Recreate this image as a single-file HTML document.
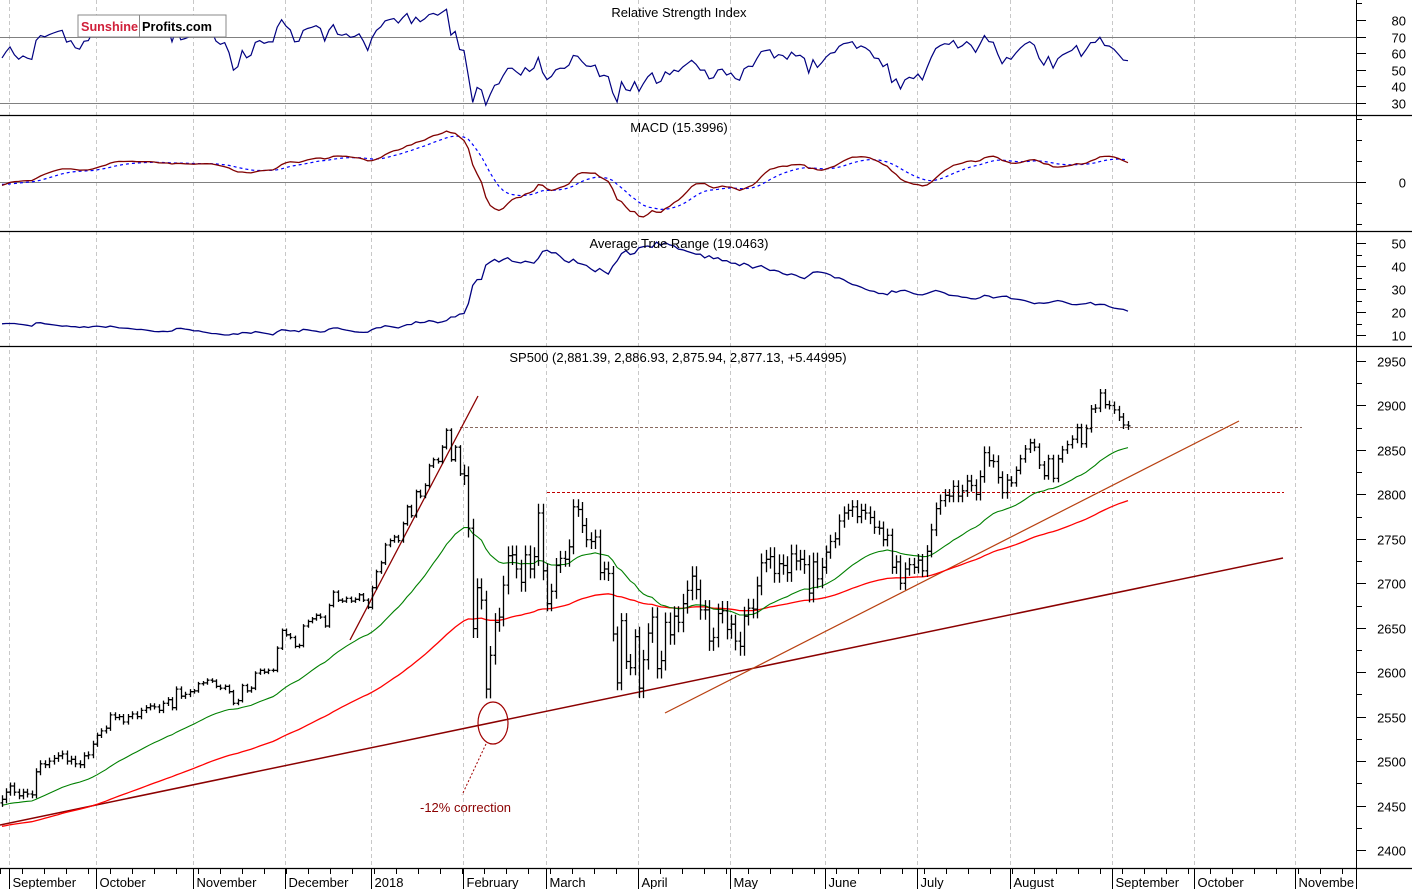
<!DOCTYPE html>
<html><head><meta charset="utf-8">
<style>
html,body{margin:0;padding:0;background:#fff;}
svg{display:block;font-family:"Liberation Sans",Arial,sans-serif;}
</style></head>
<body>
<svg id="chart" width="1412" height="889" viewBox="0 0 1412 889" xmlns="http://www.w3.org/2000/svg">
  <rect x="0" y="0" width="1412" height="889" fill="#fff"/>
  <g id="grid"></g>
  <g id="rsiG"></g>
  <g id="macdG"></g>
  <g id="atrG"></g>
  <g id="priceG"></g>
  <g id="axisG"></g>
</svg>
<script>
// ---- data (daily closes per month, Aug-2017 .. Aug-2018) ----
const monthNames = ["September","October","November","December","2018","February","March","April","May","June","July","August","September","October","Novembe"];
const closesAug17 = [2457,2465];
const closesSep17 = [2472,2465,2461,2465,2463,2462,2488,2497,2496,2500,2503,2506,2508,2500,2502,2497,2496,2506,2507,2519];
const closesOct17 = [2529,2534,2537,2552,2549,2550,2544,2550,2553,2550,2557,2560,2562,2561,2557,2565,2569,2560,2581,2573,2575,2578];
const closesNov17 = [2579,2587,2588,2591,2590,2584,2582,2584,2578,2565,2568,2585,2579,2582,2599,2602,2600,2602,2602,2627,2647];
const closesDec17 = [2642,2639,2629,2630,2652,2657,2660,2664,2662,2652,2675,2690,2681,2680,2683,2680,2682,2687,2681,2673];
const closesJan18 = [2695,2713,2723,2743,2748,2752,2748,2767,2786,2776,2803,2798,2810,2832,2839,2837,2853,2872,2839,2853,2823];
const closesFeb18 = [2821,2762,2649,2695,2681,2581,2619,2656,2662,2698,2731,2732,2716,2701,2732,2716,2730,2779,2714];
const closesMar18 = [2677,2691,2720,2728,2727,2741,2786,2783,2765,2749,2747,2752,2712,2716,2711,2643,2588,2658,2612,2605,2640];
const closesApr18 = [2582,2614,2644,2662,2604,2613,2656,2642,2663,2656,2677,2692,2708,2693,2670,2670,2635,2639,2666,2669,2648];
const closesMay18 = [2654,2635,2629,2663,2672,2671,2697,2723,2727,2730,2711,2722,2720,2712,2733,2725,2727,2721,2689,2724,2705,2718];
const closesJun18 = [2735,2747,2750,2770,2779,2782,2786,2775,2782,2779,2774,2763,2762,2749,2754,2718,2724,2700,2716,2721,2718];
const closesJul18 = [2726,2714,2736,2760,2784,2793,2799,2798,2809,2798,2804,2815,2810,2800,2820,2847,2838,2837,2819,2802,2816];
const closesAug18 = [2813,2827,2840,2851,2858,2853,2833,2821,2840,2818,2840,2850,2856,2862,2875,2857,2874,2896,2897,2914,2901,2900,2895,2887,2878,2877];
// typical intraday range per month (points)
const monthRange = [15,13,10,7,7,8,35,28,37,35,25,23,15];
const priceTicks = [2950,2900,2850,2800,2750,2700,2650,2600,2550,2500,2450,2400];
const rsiTicks = [80,70,60,50,40,30];
const atrTicks = [50,40,30,20,10];
const macdTicks = [0];

const months = [closesAug17,closesSep17,closesOct17,closesNov17,closesDec17,closesJan18,closesFeb18,closesMar18,closesApr18,closesMay18,closesJun18,closesJul18,closesAug18];
// layout: x-pixel of each month start on the time axis (Sep-17 .. Nov-18)
const monthX = [10,97,194,286,372,464,547,639,731,826,918,1011,1113,1195,1296];

// ---- build bars ----
const closes=[], monthIdx=[], monthStart=[];
months.forEach((m,mi)=>{monthStart.push(closes.length); m.forEach(c=>{closes.push(c);monthIdx.push(mi);});});
const N=closes.length;
// anchors: bar index -> x
const anchI=[0], anchX=[2];
for(let m=1;m<months.length;m++){anchI.push(monthStart[m]);anchX.push(monthX[m-1]);}
anchI.push(N-1); anchX.push(1128);
function xB(i){for(let k=0;k<anchI.length-1;k++){if(i<=anchI[k+1]){const t=(i-anchI[k])/(anchI[k+1]-anchI[k]);return anchX[k]+t*(anchX[k+1]-anchX[k]);}}return anchX[anchX.length-1];}
const yP=p=>361+(2950-p)*0.8891;
const yR=v=>20+(80-v)*1.66;
const yM=v=>182-v*1.05;
const yA=v=>243+(50-v)*2.3;

const opens=[],highs=[],lows=[];
for(let i=0;i<N;i++){
  const o=i?closes[i-1]:closes[i]-4; const r=monthRange[monthIdx[i]];
  opens.push(o);
  highs.push(Math.max(o,closes[i])+r*0.3);
  lows.push(Math.min(o,closes[i])-r*0.3);
}
function ema(arr,p,seed){const k=2/(p+1);let e=seed;return arr.map(v=>(e=v*k+e*(1-k)));}
const ma1=ema(closes,34,2450);
const ma2=ema(closes,95,2426);
const e12=ema(closes,12,closes[0]-6), e26=ema(closes,26,closes[0]-2);
const macd=e12.map((v,i)=>v-e26[i]);
const sig=ema(macd,9,-2);
const rsi=[];{let ag=4,al=3;for(let i=0;i<N;i++){const d=i?closes[i]-closes[i-1]:0;ag=(ag*13+Math.max(d,0))/14;al=(al*13+Math.max(-d,0))/14;rsi.push(100-100/(1+ag/al));}}
const atr=[];{let a=15;for(let i=0;i<N;i++){const pc=i?closes[i-1]:opens[i];const tr=Math.max(highs[i],pc)-Math.min(lows[i],pc);a=(a*13+tr)/14;atr.push(a);}}

const NS="http://www.w3.org/2000/svg";
function mk(tag,attrs,parent){const e=document.createElementNS(NS,tag);for(const k in attrs)e.setAttribute(k,attrs[k]);parent.appendChild(e);return e;}
const grid=document.getElementById('grid'),rsiG=document.getElementById('rsiG'),macdG=document.getElementById('macdG'),atrG=document.getElementById('atrG'),priceG=document.getElementById('priceG'),axisG=document.getElementById('axisG');

// gridlines + month labels
monthX.forEach((mx,m)=>{
  const x=mx-0.5;
  const g=mk('line',{x1:x,y1:0,x2:x,y2:868,stroke:'#c8c8c8','stroke-dasharray':'4,3'},grid);
  
  
  const t=mk('line',{x1:x,y1:868,x2:x,y2:889,stroke:'#000'},axisG);
  
  
  const lb=mk('text',{x:x+3,y:887,'font-size':13,fill:'#000'},axisG);
  lb.textContent=monthNames[m];
  
  
});
for(let x0=0;x0<1356;x0+=22){
  const x=x0+0.5;
  const t=mk('line',{x1:x,y1:868,x2:x,y2:874,stroke:'#000'},axisG);
  
  
}
function poly(pts,attrs,parent,name){const p=mk('polyline',Object.assign({points:pts.map(q=>q[0].toFixed(1)+','+q[1].toFixed(1)).join(' '),fill:'none'},attrs),parent);return p;}
function title(txt,x,y,parent,name){const t=mk('text',{x:x,y:y,'font-size':13,'text-anchor':'middle',fill:'#000'},parent);t.textContent=txt;}

// RSI
[70,30].forEach(v=>{const l=mk('line',{x1:0,x2:1356,y1:Math.round(yR(v))+0.5,y2:Math.round(yR(v))+0.5,stroke:'#808080'},rsiG);});
poly(rsi.map((v,i)=>[xB(i),yR(v)]),{stroke:'#000080','stroke-width':1.2},rsiG,'rsi-line');
title('Relative Strength Index',679,17,rsiG,'rsi-title');
// MACD
{const l=mk('line',{x1:0,x2:1356,y1:182.5,y2:182.5,stroke:'#808080'},macdG);}
poly(sig.map((v,i)=>[xB(i),yM(v)]),{stroke:'#0000ff','stroke-width':1.2,'stroke-dasharray':'3,3'},macdG,'macd-signal-line');
poly(macd.map((v,i)=>[xB(i),yM(v)]),{stroke:'#800000','stroke-width':1.3},macdG,'macd-line');
title('MACD (15.3996)',679,132,macdG,'macd-title');
// ATR
poly(atr.map((v,i)=>[xB(i),yA(v)]),{stroke:'#000080','stroke-width':1.3},atrG,'atr-line');
title('Average True Range (19.0463)',679,248,atrG,'atr-title');

// Price annotations
function line(x1,y1,x2,y2,attrs,name){const l=mk('line',Object.assign({x1,y1,x2,y2},attrs),priceG);}
line(460,427.5,1302,427.5,{stroke:'#8a6a60','stroke-dasharray':'3,2'},'prior-high-dashed-line');
line(547,492.5,1284,492.5,{stroke:'#c00000','stroke-dasharray':'3,2'},'resistance-2800-line');
line(0,825,1283,558,{stroke:'#8b0000','stroke-width':1.5},'long-term-trendline');
line(665,713,1239,421,{stroke:'#b84010','stroke-width':1.2},'rising-support-trendline');
line(350,640,478,396,{stroke:'#8b0000','stroke-width':1.3},'steep-january-trendline');
poly(ma2.map((v,i)=>[xB(i),yP(v)]),{stroke:'#ff0000','stroke-width':1.3},priceG,'moving-average-red');
poly(ma1.map((v,i)=>[xB(i),yP(v)]),{stroke:'#008000','stroke-width':1.1},priceG,'moving-average-green');
// OHLC bars
const barsG=mk('g',{stroke:'#000','stroke-width':1.3},priceG);


for(let i=0;i<N;i++){
  const x=Math.round(xB(i))+0.5;
  const p=mk('path',{d:`M${x},${yP(highs[i]).toFixed(1)}V${yP(lows[i]).toFixed(1)}M${x-2},${yP(opens[i]).toFixed(1)}H${x}M${x},${yP(closes[i]).toFixed(1)}H${x+2}`},barsG);
  
  
}
{const e=mk('ellipse',{cx:493,cy:723,rx:15,ry:21,fill:'none',stroke:'#a00000','stroke-width':1.2},priceG);}
line(486,744,462,795,{stroke:'#a00000','stroke-dasharray':'2,2'},'correction-pointer');
{const t=mk('text',{x:420,y:812,'font-size':13,fill:'#8b0000'},priceG);t.textContent='-12% correction';}
title('SP500 (2,881.39, 2,886.93, 2,875.94, 2,877.13, +5.44995)',678,362,priceG,'price-title');

// logo
const logo=mk('g',{},axisG);


mk('rect',{x:78,y:15,width:148,height:22,fill:'#fff',stroke:'#888'},logo);
mk('line',{x1:139.5,y1:15,x2:139.5,y2:37,stroke:'#888'},logo);
{const t=mk('text',{x:81,y:31,'font-size':13,'font-weight':'bold',fill:'#d0203a',textLength:57,lengthAdjust:'spacingAndGlyphs'},logo);t.textContent='Sunshine';}
{const t=mk('text',{x:142,y:31,'font-size':13,'font-weight':'bold',fill:'#000',textLength:70,lengthAdjust:'spacingAndGlyphs'},logo);t.textContent='Profits.com';}

// panel borders and right axis
[115.5,231.5,346.5,868.5].forEach(y=>{const l=mk('line',{x1:0,x2:1412,y1:y,y2:y,stroke:'#000','stroke-width':1.2},axisG);});
{const l=mk('line',{x1:1356.5,x2:1356.5,y1:0,y2:889,stroke:'#000'},axisG);}
function ticks(vals,yf,name,minorStep,lo,hi,ymin,ymax){
  for(let v=lo;v<=hi;v+=minorStep){const y=Math.round(yf(v))+0.5;if(y<ymin||y>ymax)continue;mk('line',{x1:1356,x2:1362,y1:y,y2:y,stroke:'#000'},axisG);}
  vals.forEach(v=>{const y=Math.round(yf(v))+0.5;mk('line',{x1:1356,x2:1366,y1:y,y2:y,stroke:'#000'},axisG);
    const t=mk('text',{x:1406,y:y+5,'font-size':13,'text-anchor':'end',fill:'#000'},axisG);t.textContent=v;
    
    });
}
ticks(rsiTicks,yR,'rsi-tick-label',10,20,90,2,113);
ticks(macdTicks,yM,'macd-tick-label',20,-60,60,118,229);
ticks(atrTicks,yA,'atr-tick-label',5,5,55,234,344);
ticks(priceTicks,yP,'price-tick-label',25,2375,2975,349,866);
</script>
</body></html>
